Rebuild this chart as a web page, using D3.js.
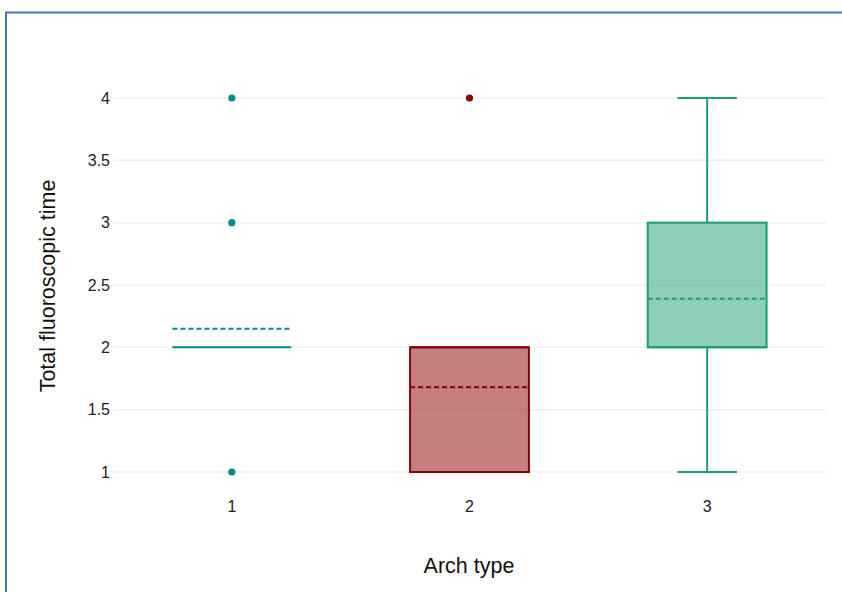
<!DOCTYPE html>
<html>
<head>
<meta charset="utf-8">
<script src="https://cdn.jsdelivr.net/npm/d3@7"></script>
<style>
  html, body { margin: 0; padding: 0; background: #fff; }
  svg { display: block; font-family: "Liberation Sans", Arial, Helvetica, sans-serif; }
</style>
</head>
<body>
<svg id="chart" width="842" height="592"></svg>
<script>
// Box statistics per arch type
const categories = ["1", "2", "3"];
const q1 = [2, 1, 2];
const medians = [2, 2, 2];
const q3 = [2, 2, 3];
const lowerFence = [2, 1, 1];
const upperFence = [2, 2, 4];
const means = [2.15, 1.68, 2.39];
const outliers = [[1, 3, 4], [4], []];
const colors = ["#008B8B", "#8B0000", "#1B9E77"];
const yTicks = [1, 1.5, 2, 2.5, 3, 3.5, 4];

const svg = d3.select("#chart");

// Frame around the figure
svg.append("path")
  .attr("d", "M6,600 L6,12.5 L850,12.5")
  .attr("fill", "none")
  .attr("stroke", "#4472C4")
  .attr("stroke-width", 2);

const x = d3.scaleBand().domain(categories).range([113, 826]).paddingInner(0).paddingOuter(0);
const y = d3.scaleLinear().domain([1, 4]).range([472, 98]);

const boxW = x.bandwidth() * 0.5;
const capW = boxW * 0.5;

// Gridlines
svg.append("g").selectAll("line").data(yTicks).join("line")
  .attr("x1", 113).attr("x2", 826)
  .attr("y1", d => y(d)).attr("y2", d => y(d))
  .attr("stroke", "#f0f0f0").attr("stroke-width", 1.5);

// Y axis tick labels
const yAxis = d3.axisLeft(y).tickValues(yTicks).tickSize(0).tickPadding(2)
  .tickFormat(d => d3.format("")(d));
const gy = svg.append("g").attr("transform", "translate(112,0)").call(yAxis);
gy.select(".domain").remove();
gy.selectAll("text").attr("font-size", 16).attr("fill", "#222")
  .attr("font-family", "'Liberation Sans', Arial, sans-serif");

// X axis tick labels
const xAxis = d3.axisBottom(x).tickSize(0).tickPadding(0);
const gx = svg.append("g").attr("transform", "translate(0,500)").call(xAxis);
gx.select(".domain").remove();
gx.selectAll("text").attr("font-size", 16).attr("fill", "#222")
  .attr("dy", null).attr("y", 12)
  .attr("font-family", "'Liberation Sans', Arial, sans-serif");

// Axis titles
svg.append("text")
  .attr("x", 469).attr("y", 573)
  .attr("text-anchor", "middle")
  .attr("font-size", 21.5).attr("fill", "#111")
  .text("Arch type");

svg.append("text")
  .attr("transform", "translate(55,286) rotate(-90)")
  .attr("text-anchor", "middle")
  .attr("font-size", 21.5).attr("fill", "#111")
  .text("Total fluoroscopic time");

// Boxes
const groups = svg.append("g").selectAll("g").data(categories).join("g");

groups.each(function(c, i) {
  const g = d3.select(this);
  const cx = x(c) + x.bandwidth() / 2;
  const col = colors[i];

  // whiskers
  if (upperFence[i] > q3[i]) {
    g.append("line").attr("x1", cx).attr("x2", cx)
      .attr("y1", y(q3[i])).attr("y2", y(upperFence[i]))
      .attr("stroke", col).attr("stroke-width", 2);
    g.append("line").attr("x1", cx - capW / 2).attr("x2", cx + capW / 2)
      .attr("y1", y(upperFence[i])).attr("y2", y(upperFence[i]))
      .attr("stroke", col).attr("stroke-width", 2);
  }
  if (lowerFence[i] < q1[i]) {
    g.append("line").attr("x1", cx).attr("x2", cx)
      .attr("y1", y(q1[i])).attr("y2", y(lowerFence[i]))
      .attr("stroke", col).attr("stroke-width", 2);
    g.append("line").attr("x1", cx - capW / 2).attr("x2", cx + capW / 2)
      .attr("y1", y(lowerFence[i])).attr("y2", y(lowerFence[i]))
      .attr("stroke", col).attr("stroke-width", 2);
  }

  // box body
  g.append("rect")
    .attr("x", cx - boxW / 2).attr("width", boxW)
    .attr("y", y(q3[i])).attr("height", Math.max(0, y(q1[i]) - y(q3[i])))
    .attr("fill", col).attr("fill-opacity", 0.5)
    .attr("stroke", col).attr("stroke-width", 2);

  // median
  g.append("line")
    .attr("x1", cx - boxW / 2).attr("x2", cx + boxW / 2)
    .attr("y1", y(medians[i])).attr("y2", y(medians[i]))
    .attr("stroke", col).attr("stroke-width", 2);

  // mean
  g.append("line")
    .attr("x1", cx - boxW / 2).attr("x2", cx + boxW / 2)
    .attr("y1", y(means[i])).attr("y2", y(means[i]))
    .attr("stroke", col).attr("stroke-width", 2)
    .attr("stroke-dasharray", "5,3");

  // outliers
  g.selectAll("circle").data(outliers[i]).join("circle")
    .attr("cx", cx).attr("cy", d => y(d)).attr("r", 3.6)
    .attr("fill", col);
});
</script>
</body>
</html>
